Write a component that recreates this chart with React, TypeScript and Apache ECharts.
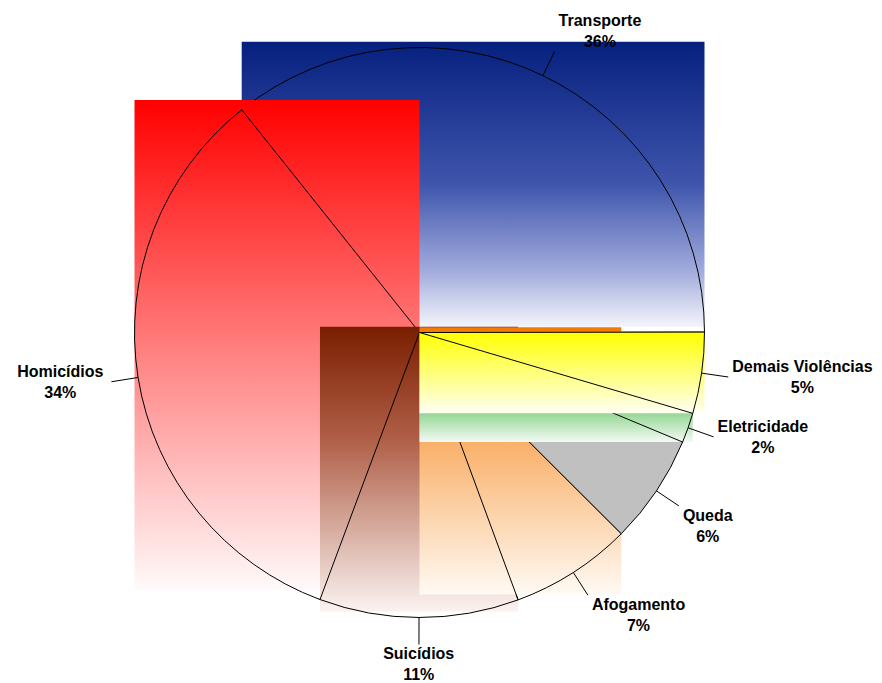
import React, { useEffect, useRef } from 'react';
import * as echarts from 'echarts';

// ---- data ----
const categories = ['Transporte', 'Demais Violências', 'Eletricidade', 'Queda', 'Afogamento', 'Suicídios', 'Homicídios'];
const values = [35.7, 4.6, 1.7, 6.2, 6.9, 11.3, 33.6];

// ---- style ----
const gradientStops: Record<string, [number, string][]> = {
  'Transporte': [[0, '#06207e'], [0.5, '#3f55ac'], [0.8, '#a0aadc'], [1, '#f3f4fb']],
  'Demais Violências': [[0, '#ffff00'], [1, '#fffff4']],
  'Eletricidade': [[0, '#0a7a0a'], [0.74, '#96d796'], [1, '#f4faf4']],
  'Afogamento': [[0, '#f57800'], [1, '#fffaf4']],
  'Suicídios': [[0, '#7a1e00'], [0.4, '#b06048'], [1, '#fbf3f1']],
  'Homicídios': [[0, '#ff0000'], [1, '#fffafa']],
};
const solidColors: Record<string, string> = { 'Queda': '#c0c0c0' };
// paint order: each slice paints its fill box, then its outline
const paintOrder = ['Transporte', 'Homicídios', 'Suicídios', 'Afogamento', 'Queda', 'Eletricidade', 'Demais Violências'];

const W = 882, H = 683;
const CX = 419.5, CY = 332.5, R = 285;
const START_DEG = -38.6; // clockwise from 12 o'clock
const LEADER = 27;

function pt(deg: number, r: number): [number, number] {
  const a = (deg * Math.PI) / 180;
  return [CX + r * Math.sin(a), CY - r * Math.cos(a)];
}

const total = values.reduce((a, b) => a + b, 0);
const spans: [number, number][] = [];
{
  let acc = START_DEG;
  values.forEach((v) => {
    const s = acc;
    const e = acc + (v / total) * 360;
    spans.push([s, e]);
    acc = e;
  });
}

function bbox(span: [number, number]) {
  const [s, e] = span;
  const pts: [number, number][] = [[CX, CY], pt(s, R), pt(e, R)];
  for (let k = Math.ceil(s / 90) * 90; k < e; k += 90) pts.push(pt(k, R));
  const xs = pts.map((p) => p[0]);
  const ys = pts.map((p) => p[1]);
  return { x0: Math.min(...xs), x1: Math.max(...xs), y0: Math.min(...ys), y1: Math.max(...ys) };
}

function boxFor(name: string, z: number) {
  const i = categories.indexOf(name);
  const b = bbox(spans[i]);
  const h = b.y1 - b.y0;
  const shift = h > 150 ? 0.02 * h : 0;
  return {
    type: 'rect',
    silent: true,
    z,
    shape: { x: b.x0, y: b.y0 - shift, width: b.x1 - b.x0, height: h },
    style: {
      fill: {
        type: 'linear', x: 0, y: 0, x2: 0, y2: 1,
        colorStops: gradientStops[name].map(([offset, color]) => ({ offset, color })),
      },
    },
  };
}

export default function App() {
  const ref = useRef<HTMLDivElement>(null);
  useEffect(() => {
    document.body.style.margin = '0';
    if (!ref.current) return;
    const chart = echarts.init(ref.current, undefined, { renderer: 'svg' });

    const common = {
      type: 'pie',
      center: [CX, CY],
      radius: R,
      startAngle: 90 - START_DEG,
      clockwise: true,
      avoidLabelOverlap: false,
      silent: true,
      emphasis: { disabled: true },
    };

    const rects: any[] = [];
    const layers: any[] = [];
    paintOrder.forEach((name, k) => {
      if (gradientStops[name]) rects.push(boxFor(name, 10 + 2 * k));
      layers.push({
        ...common,
        z: 11 + 2 * k,
        data: categories.map((n, i) => ({
          name: n,
          value: values[i],
          itemStyle:
            n === name
              ? { color: solidColors[n] || 'rgba(0,0,0,0)', borderColor: '#000000', borderWidth: 1 }
              : { color: 'rgba(0,0,0,0)', borderWidth: 0 },
        })),
        label: { show: false },
        labelLine: { show: false },
      });
    });

    chart.setOption({
      animation: false,
      backgroundColor: '#ffffff',
      graphic: rects,
      series: [
        ...layers,
        {
          ...common,
          z: 40,
          data: categories.map((name, i) => ({
            name,
            value: values[i],
            itemStyle: { color: 'rgba(0,0,0,0)', borderWidth: 0 },
          })),
          label: {
            show: true,
            position: 'outside',
            formatter: (p: any) => `${p.name}\n${Math.round(p.percent)}%`,
            color: '#000000',
            fontFamily: 'Liberation Sans, Arial, sans-serif',
            fontWeight: 'bold',
            fontSize: 16,
            lineHeight: 21,
            align: 'center',
          },
          labelLine: {
            show: true,
            length: LEADER,
            length2: 0,
            smooth: false,
            lineStyle: { color: '#000000', width: 1 },
          },
          labelLayout: (params: any) => {
            const i = params.dataIndex;
            const [s, e] = spans[i];
            const mid = (s + e) / 2;
            const a = (mid * Math.PI) / 180;
            const dx = Math.sin(a);
            const dy = -Math.cos(a);
            const P = pt(mid, R);
            const E = pt(mid, R + LEADER);
            const w = params.labelRect.width;
            const h = params.labelRect.height;
            const hx = Math.abs(dx) > 0.3 ? Math.sign(dx) : dx / 0.3;
            const hy = Math.abs(dy) > 0.5 ? Math.sign(dy) : 0;
            const gap = dx < 0 ? 8 : 4;
            return {
              x: E[0] + hx * (w / 2 + gap),
              y: E[1] + hy * (h / 2 - 1),
              align: 'center',
              verticalAlign: 'middle',
              labelLinePoints: [P, E, E],
            };
          },
        },
      ],
    });
    return () => chart.dispose();
  }, []);
  return <div ref={ref} style={{ width: W, height: H }} />;
}
